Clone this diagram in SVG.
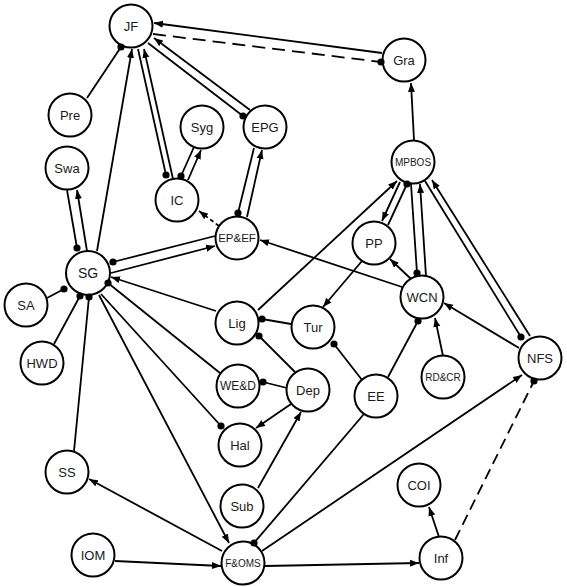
<svg xmlns="http://www.w3.org/2000/svg" width="567" height="587" viewBox="0 0 567 587">
<style>
.n circle{fill:#fff;stroke:#000;stroke-width:2}
.n text{font-family:"Liberation Sans",Arial,sans-serif;font-size:13px;fill:#1a1a1a;text-anchor:middle}
.e path{fill:none;stroke:#000;stroke-width:1.8}
.a{marker-end:url(#arr)}
.d{marker-end:url(#dot)}
.ds{stroke-dasharray:13 7}
.ds2{stroke-dasharray:11 6}
.sd{stroke-dasharray:4 3}
</style>
<defs>
<marker id="arr" markerUnits="userSpaceOnUse" markerWidth="10" markerHeight="8" refX="9" refY="4" orient="auto"><path d="M0,0.5 L9,4 L0,7.5 z" fill="#000"/></marker>
<marker id="dot" markerUnits="userSpaceOnUse" markerWidth="8" markerHeight="8" refX="4" refY="4"><circle cx="4" cy="4" r="3.6" fill="#000"/></marker>
</defs>
<rect width="567" height="587" fill="#fff"/>
<g id="nodes" class="n">
<g id="JF"><circle cx="131" cy="26" r="21.5"/><text x="131" y="31">JF</text></g>
<g id="Gra"><circle cx="404" cy="60" r="21.5"/><text x="404" y="65">Gra</text></g>
<g id="Pre"><circle cx="70" cy="115" r="21.5"/><text x="70" y="120">Pre</text></g>
<g id="Swa"><circle cx="67" cy="168" r="21.5"/><text x="67" y="173">Swa</text></g>
<g id="Syg"><circle cx="202" cy="127" r="21.5"/><text x="202" y="132">Syg</text></g>
<g id="EPG"><circle cx="265" cy="127" r="21.5"/><text x="265" y="132">EPG</text></g>
<g id="IC"><circle cx="177" cy="200" r="21.5"/><text x="177" y="205">IC</text></g>
<g id="MPBOS"><circle cx="413" cy="162" r="21.5"/><text x="413" y="166" style="font-size:10px">MPBOS</text></g>
<g id="EPEF"><circle cx="237" cy="238" r="21.5"/><text x="237" y="242" style="font-size:11.5px">EP&amp;EF</text></g>
<g id="SG"><circle cx="88" cy="273" r="22"/><text x="88" y="278" style="font-size:14px">SG</text></g>
<g id="SA"><circle cx="26" cy="305" r="21.5"/><text x="26" y="310">SA</text></g>
<g id="PP"><circle cx="374" cy="243" r="21.5"/><text x="374" y="248">PP</text></g>
<g id="Lig"><circle cx="237" cy="323" r="21.5"/><text x="237" y="328">Lig</text></g>
<g id="Tur"><circle cx="313" cy="327" r="21.5"/><text x="313" y="332">Tur</text></g>
<g id="WCN"><circle cx="422" cy="297" r="21.5"/><text x="422" y="302">WCN</text></g>
<g id="HWD"><circle cx="42" cy="363" r="21.5"/><text x="42" y="368">HWD</text></g>
<g id="NFS"><circle cx="540" cy="358" r="21.5"/><text x="540" y="363">NFS</text></g>
<g id="RDCR"><circle cx="443" cy="377" r="21.5"/><text x="443" y="381" style="font-size:10px">RD&amp;CR</text></g>
<g id="WED"><circle cx="238" cy="386" r="21.5"/><text x="238" y="390" style="font-size:12px">WE&amp;D</text></g>
<g id="Dep"><circle cx="308" cy="390" r="21.5"/><text x="308" y="395">Dep</text></g>
<g id="EE"><circle cx="376" cy="396" r="21.5"/><text x="376" y="401">EE</text></g>
<g id="Hal"><circle cx="240" cy="445" r="21.5"/><text x="240" y="450">Hal</text></g>
<g id="SS"><circle cx="67" cy="472" r="21.5"/><text x="67" y="477">SS</text></g>
<g id="Sub"><circle cx="242" cy="506" r="21.5"/><text x="242" y="511">Sub</text></g>
<g id="COI"><circle cx="419" cy="485" r="21.5"/><text x="419" y="490">COI</text></g>
<g id="FOMS"><circle cx="243" cy="563" r="21.5"/><text x="243" y="567" style="font-size:10px">F&amp;OMS</text></g>
<g id="IOM"><circle cx="93" cy="555" r="21.5"/><text x="93" y="560">IOM</text></g>
<g id="Inf"><circle cx="441" cy="558" r="21.5"/><text x="441" y="563">Inf</text></g>
</g>
<g id="connectors" class="e">
<path class="a" d="M382,53 L154,23"/>
<path class="d ds" d="M153,34 L381,62"/>
<path class="d" d="M87,98 L121,47"/>
<path class="a" d="M97,251 L132,49"/>
<path class="d" d="M138,49 L166,175"/>
<path class="a" d="M173,179 L144,49"/>
<path class="d" d="M194,147 L181,176"/>
<path class="a" d="M188,180 L201,150"/>
<path class="d" d="M148,43 L243,116"/>
<path class="a" d="M250,110 L154,38"/>
<path class="d" d="M254,148 L238,213"/>
<path class="a" d="M247,217 L262,150"/>
<path class="a sd" d="M219,226 L199,211"/>
<path class="d" d="M215,236 L113,262"/>
<path class="a" d="M111,273 L215,246"/>
<path class="d" d="M67,190 L77,248"/>
<path class="a" d="M87,251 L77,190"/>
<path class="d" d="M47,298 L64,289"/>
<path class="d" d="M54,344 L80,296"/>
<path class="d" d="M74,451 L89,297"/>
<path class="a" d="M216,311 L111,277"/>
<path class="d" d="M220,373 L108,283"/>
<path class="d" d="M101,294 L221,426"/>
<path class="a" d="M99,295 L229,543"/>
<path class="a" d="M222,551 L89,479"/>
<path class="a" d="M115,561 L221,566"/>
<path class="a" d="M265,566 L419,563"/>
<path class="a" d="M439,537 L429,507"/>
<path class="d ds2" d="M455,540 L534,381"/>
<path class="a" d="M262,551 L522,375"/>
<path class="d" d="M364,414 L254,543"/>
<path class="d" d="M388,377 L418,321"/>
<path class="a" d="M443,356 L435,318"/>
<path class="a" d="M519,348 L444,303"/>
<path class="a" d="M411,279 L390,259"/>
<path class="a" d="M402,287 L260,240"/>
<path class="a" d="M362,261 L323,307"/>
<path class="d" d="M291,324 L262,319"/>
<path class="d" d="M295,372 L259,336"/>
<path class="d" d="M362,380 L334,344"/>
<path class="d" d="M287,388 L263,382"/>
<path class="a" d="M291,404 L256,428"/>
<path class="a" d="M258,488 L301,412"/>
<path class="a" d="M258,310 L397,181"/>
<path class="a" d="M400,182 L382,221"/>
<path class="d" d="M388,225 L407,184"/>
<path class="d" d="M411,184 L417,273"/>
<path class="a" d="M426,276 L420,184"/>
<path class="d" d="M425,181 L521,337"/>
<path class="a" d="M530,336 L432,180"/>
<path class="a" d="M414,140 L411,83"/>
</g>
</svg>
